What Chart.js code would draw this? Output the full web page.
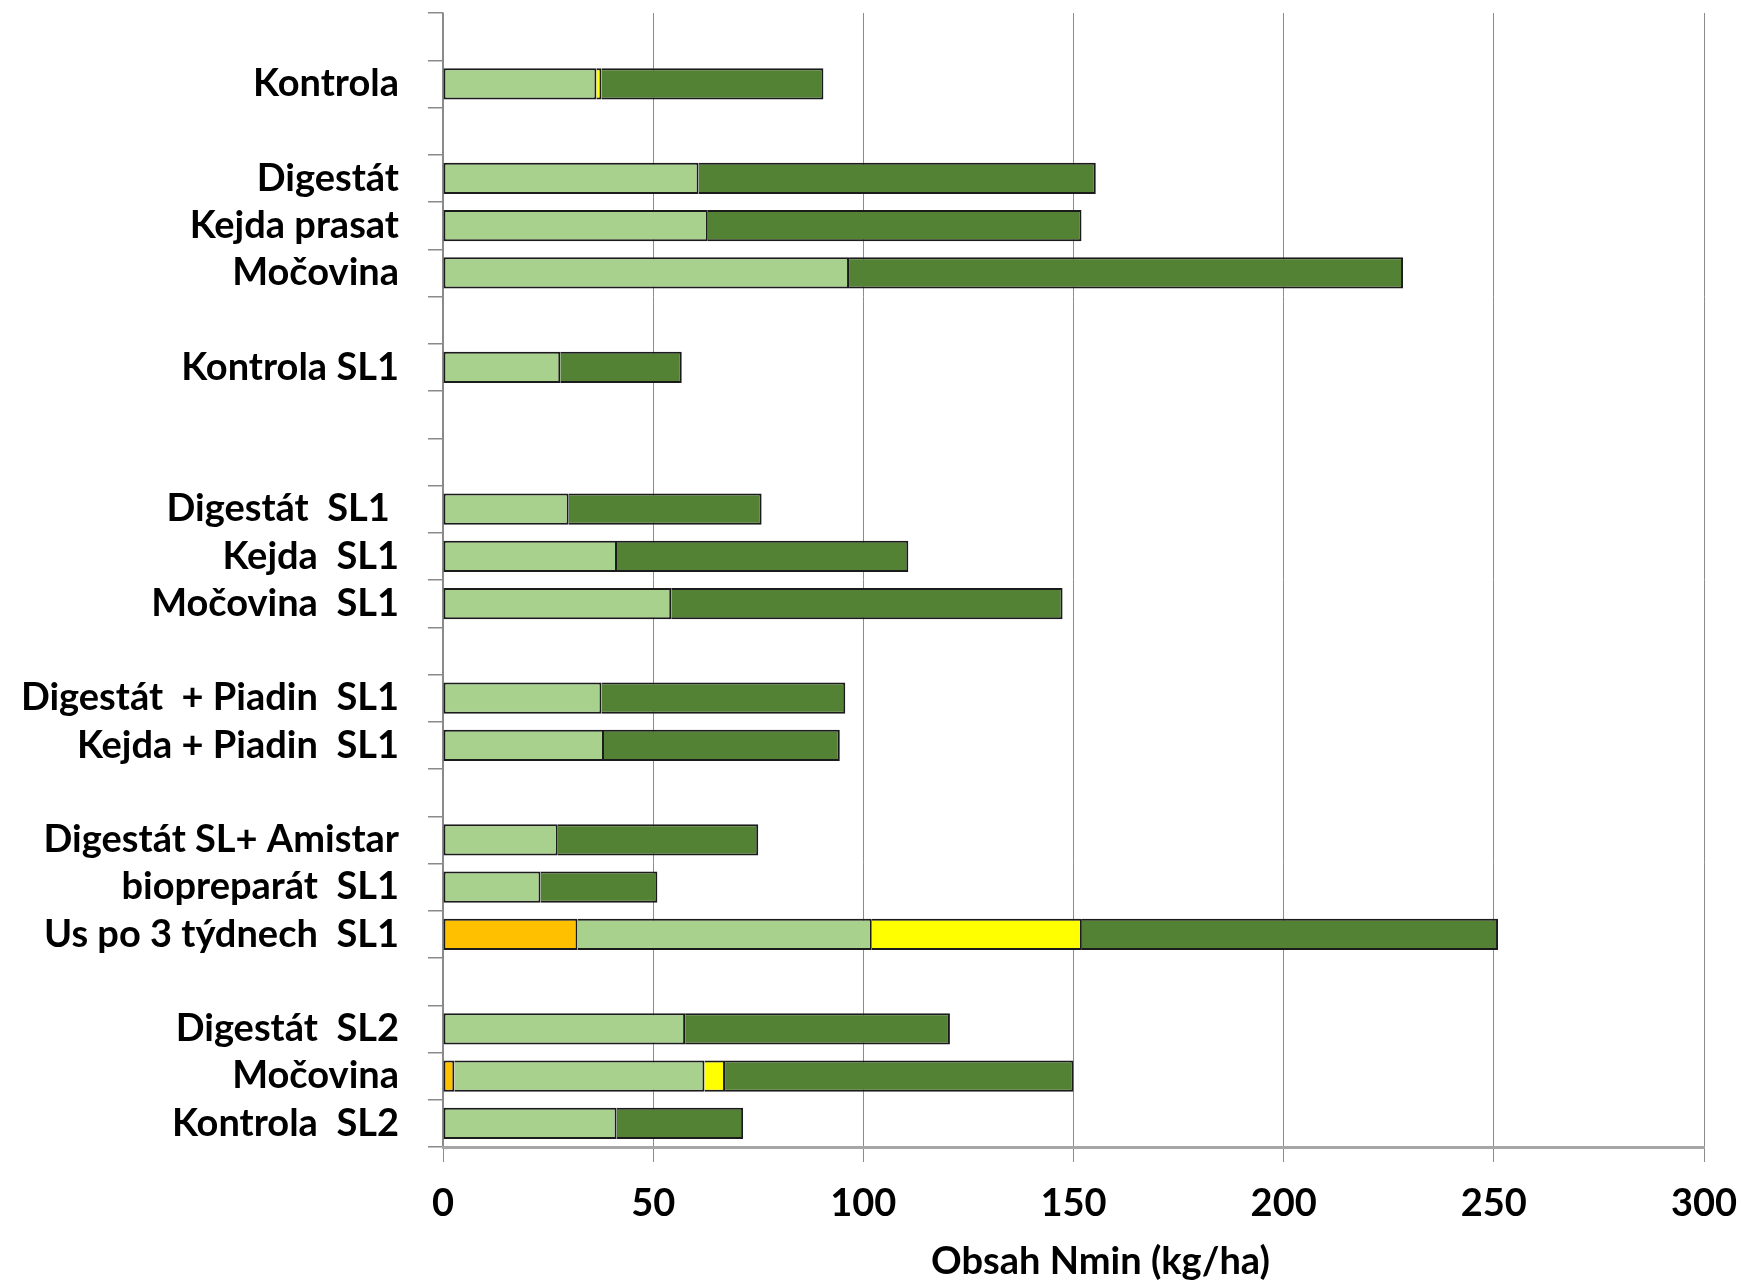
<!DOCTYPE html>
<html>
<head>
<meta charset="utf-8">
<script src="https://cdn.jsdelivr.net/npm/chart.js@4/dist/chart.umd.min.js"></script>
<style>
  html, body { margin: 0; padding: 0; background: #ffffff; }
  #wrap { width: 1742px; height: 1284px; }
</style>
</head>
<body>
<div id="wrap"><canvas id="c" width="1742" height="1284"></canvas></div>
<script>
// Variants (empty strings are spacer rows between groups)
const categories = [
  '', 'Kontrola', '',
  'Digestát', 'Kejda prasat', 'Močovina', '',
  'Kontrola SL1', '', '',
  'Digestát  SL1 ', 'Kejda  SL1', 'Močovina  SL1', '',
  'Digestát  + Piadin  SL1', 'Kejda + Piadin  SL1', '',
  'Digestát SL+ Amistar', 'biopreparát  SL1', 'Us po 3 týdnech  SL1', '',
  'Digestát  SL2', 'Močovina', 'Kontrola  SL2'
];

// Nmin segments (kg/ha), stacked left to right in this order
const orangePart = [null, null, null, null, null, null, null, null, null, null, null, null, null, null, null, null, null, null, null, 32, null, null, 2.7, null];
const lightGreenPart = [null, 36.5, null, 60.8, 63, 96.6, null, 27.9, null, null, 29.9, 41.4, 54.3, null, 37.7, 38.3, null, 27.3, 23.2, 70, null, 57.6, 59.5, 41.3];
const yellowPart = [null, 1.2, null, null, null, null, null, null, null, null, null, null, null, null, null, null, null, null, null, 50, null, null, 4.9, null];
const darkGreenPart = [null, 52.8, null, 94.5, 88.9, 131.8, null, 28.9, null, null, 45.9, 69.3, 93.1, null, 58, 56.1, null, 47.7, 27.8, 99, null, 63, 82.9, 30.1];

const xTicks = [0, 50, 100, 150, 200, 250, 300];
const xTitle = 'Obsah Nmin (kg/ha)';

const stackOrder = [orangePart, lightGreenPart, yellowPart, darkGreenPart];
const fillColors = ['#ffc000', '#a9d18e', '#ffff00', '#548235'];

// Only the first segment of a bar gets a left edge; later ones share the previous right edge
function segmentBorder(ctx) {
  const ds = ctx.datasetIndex, i = ctx.dataIndex;
  let first = true;
  for (let k = 0; k < ds; k++) {
    if (stackOrder[k][i] != null) { first = false; break; }
  }
  return { top: 2, bottom: 2, right: 2, left: first ? 2 : 0 };
}

const labelFont = { family: 'Lato', size: 38, weight: 'bold' };

const datasets = stackOrder.map((values, k) => ({
  data: values,
  backgroundColor: fillColors[k],
  borderColor: '#1b1b1b',
  borderWidth: segmentBorder,
  borderSkipped: false,
  barPercentage: 0.66,
  categoryPercentage: 1.0
}));

// Axis title, centred slightly right of the plot middle under the tick labels
const axisTitlePlugin = {
  id: 'axisTitle',
  afterDraw(chart) {
    const xs = chart.scales.x;
    const ctx = chart.ctx;
    ctx.save();
    ctx.font = `bold ${labelFont.size}px ${labelFont.family}`;
    ctx.fillStyle = '#000000';
    ctx.textAlign = 'center';
    ctx.textBaseline = 'middle';
    ctx.fillText(xTitle, (xs.left + xs.right) / 2 + 27, xs.bottom - 22);
    ctx.restore();
  }
};

new Chart(document.getElementById('c'), {
  type: 'bar',
  data: { labels: categories, datasets },
  plugins: [axisTitlePlugin],
  options: {
    indexAxis: 'y',
    responsive: false,
    devicePixelRatio: 1,
    animation: false,
    layout: { padding: { top: 13, right: 38, left: 0, bottom: 0 } },
    plugins: {
      legend: { display: false },
      tooltip: { enabled: false }
    },
    scales: {
      y: {
        type: 'category',
        stacked: true,
        offset: true,
        grid: {
          offset: true,
          drawOnChartArea: false,
          drawTicks: true,
          tickLength: 15,
          color: '#8a8a8a',
          lineWidth: 1.5
        },
        border: { display: true, color: '#8a8a8a', width: 1.5 },
        ticks: {
          autoSkip: false,
          padding: 29,
          color: '#000000',
          font: labelFont
        },
        afterFit: (scale) => {
          scale.width = 443;
          scale.paddingTop = 0;
          scale.paddingBottom = 0;
        }
      },
      x: {
        type: 'linear',
        stacked: true,
        min: 0,
        max: 300,
        afterBuildTicks: (scale) => { scale.ticks = xTicks.map(v => ({ value: v })); },
        grid: {
          color: '#8c8c8c',
          lineWidth: 1,
          drawTicks: true,
          tickLength: 15
        },
        border: { display: true, color: '#a6a6a6', width: 3 },
        ticks: {
          padding: 19,
          color: '#000000',
          font: labelFont
        },
        afterFit: (scale) => {
          scale.height = 137;
          scale.paddingLeft = 0;
          scale.paddingRight = 0;
        }
      }
    }
  }
});
</script>
</body>
</html>
